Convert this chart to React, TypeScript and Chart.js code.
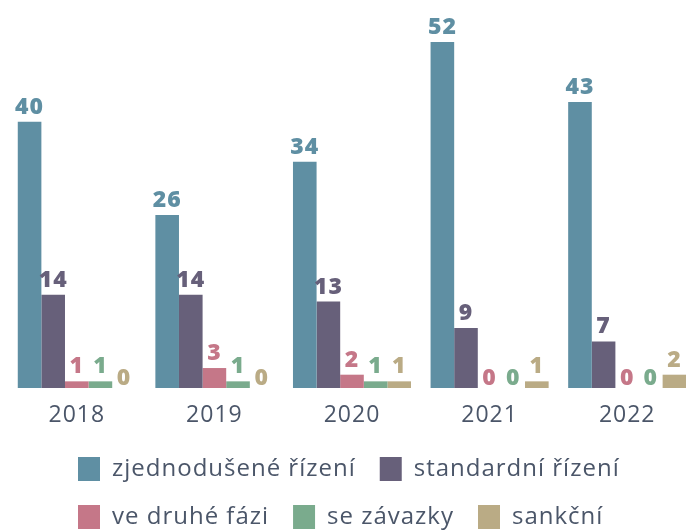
import React, { useEffect, useRef } from "react";
import { Chart, registerables } from "chart.js";

Chart.register(...registerables);

const years = ["2018", "2019", "2020", "2021", "2022"];
const zjednodusene = [40, 26, 34, 52, 43];
const standardni = [14, 14, 13, 9, 7];
const druheFazi = [1, 3, 2, 0, 0];
const seZavazky = [1, 1, 1, 0, 0];
const sankcni = [0, 0, 1, 1, 2];

const seriesNames = [
  "zjednodušené řízení",
  "standardní řízení",
  "ve druhé fázi",
  "se závazky",
  "sankční",
];
const seriesColors = ["#5f8fa3", "#67607a", "#c57788", "#7aab8d", "#baab85"];
const textColor = "#4b5669";
const FONT = "'Open Sans', sans-serif";

const valueLabels = {
  id: "valueLabels",
  afterDatasetsDraw(chart: any) {
    const ctx = chart.ctx;
    chart.data.datasets.forEach((ds: any, i: number) => {
      const meta = chart.getDatasetMeta(i);
      meta.data.forEach((el: any, j: number) => {
        const v = ds.data[j];
        const p = el.getProps(["x", "y", "base"], true);
        ctx.save();
        ctx.font = `800 23px ${FONT}`;
        ctx.fillStyle = ds.backgroundColor;
        ctx.textAlign = "center";
        ctx.textBaseline = "alphabetic";
        const ty = v === 0 ? p.base - 3 : p.y - 8;
        ctx.fillText(String(v), p.x, ty);
        ctx.restore();
      });
    });
  },
};

const legendShift = {
  id: "legendShift",
  beforeDraw(chart: any) {
    if (chart.legend) chart.legend.left = 46;
  },
};

export default function App() {
  const ref = useRef<HTMLCanvasElement>(null);
  useEffect(() => {
    const canvas = ref.current!;
    const all = [...zjednodusene, ...standardni, ...druheFazi, ...seZavazky, ...sankcni];
    const series = [zjednodusene, standardni, druheFazi, seZavazky, sankcni];
    const chart = new Chart(canvas, {
      type: "bar",
      data: {
        labels: years,
        datasets: series.map((d, i) => ({
          label: seriesNames[i],
          data: d,
          backgroundColor: seriesColors[i],
          borderWidth: 0,
          categoryPercentage: 0.858,
          barPercentage: 1,
        })),
      },
      options: {
        responsive: false,
        animation: false,
        devicePixelRatio: 1,
        layout: { padding: { top: 34, left: 0, right: 0, bottom: 0 } },
        plugins: {
          tooltip: { enabled: false },
          legend: {
            position: "bottom",
            align: "start",
            labels: {
              boxWidth: 22,
              boxHeight: 24,
              padding: 24,
              color: textColor,
              font: { family: FONT, size: 24, weight: "400" },
            },
          },
        },
        scales: {
          x: {
            grid: { display: false, drawTicks: false },
            border: { display: false },
            ticks: {
              color: textColor,
              padding: 15.5,
              font: { family: FONT, size: 23, lineHeight: 24 / 23 },
            },
            afterFit: (s: any) => {
              s.height = 45;
            },
          },
          y: {
            display: false,
            min: 0,
            max: Math.max(...all),
          },
        },
      },
      plugins: [valueLabels, legendShift],
    });
    (chart.ctx as any).letterSpacing = "1px";
    chart.update();
    return () => chart.destroy();
  }, []);
  return (
    <div
      style={{
        position: "fixed",
        left: 8,
        top: 8,
        width: 678,
        height: 522,
        overflow: "hidden",
      }}
    >
      <canvas ref={ref} width={688} height={531} style={{ display: "block" }} />
    </div>
  );
}
